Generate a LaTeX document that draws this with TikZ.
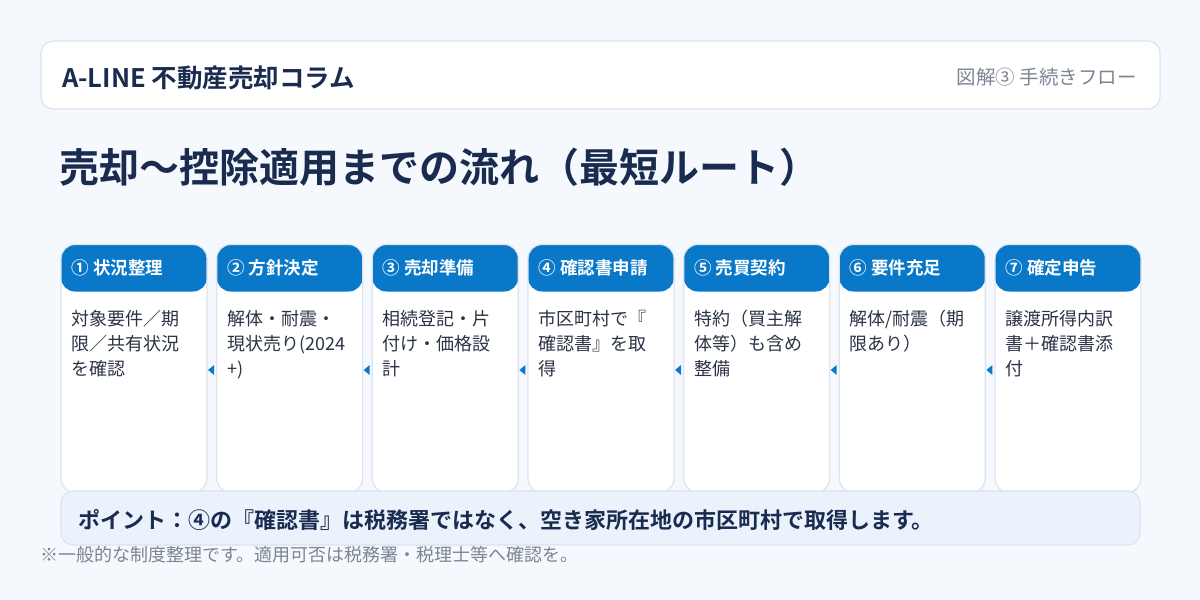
\documentclass[tikz,border=0pt]{standalone}
\usepackage{fontspec}
\setmainfont{Noto Sans CJK JP}[BoldFont={Noto Sans CJK JP Bold}]
\definecolor{pagebg}{HTML}{F5F8FC}
\definecolor{navy}{HTML}{1A2B50}
\definecolor{headblue}{HTML}{0A78C8}
\definecolor{lineblue}{HTML}{DCE4EF}
\definecolor{pointbg}{HTML}{EBF2FC}
\definecolor{greytxt}{HTML}{7C8594}
\definecolor{bodyink}{HTML}{2B3445}
\begin{document}
\begin{tikzpicture}[x=1pt,y=-1pt,
  panel/.style={draw=lineblue,line width=1.2pt,fill=white,rounded corners=12,inner sep=0},
  card/.style={panel,minimum width=146,minimum height=248,rounded corners=14,
    path picture={\fill[headblue] ([yshift=-47pt]path picture bounding box.north west) rectangle (path picture bounding box.north east);}},
  headtxt/.style={anchor=west,inner sep=0,text=white,font=\fontsize{17.5}{20}\selectfont\bfseries},
  bodytxt/.style={anchor=north west,inner sep=0,align=left,text=bodyink,font=\fontsize{18}{25}\selectfont},
  pointer/.style={fill=headblue}]
  \useasboundingbox[fill=pagebg] (0,0) rectangle (1200,600);
  % header bar
  \node (hdr) [panel,minimum width=1119,minimum height=68] at (600.5,75) {};
  \node (brand) [anchor=west,inner sep=0,text=navy,font=\fontsize{25.5}{28}\selectfont\bfseries] at (62,78) {A-LINE 不動産売却コラム};
  \node (fig) [anchor=east,inner sep=0,text=greytxt,font=\fontsize{19.5}{22}\selectfont] at (1137,77) {図解③ 手続きフロー};
  \node (title) [anchor=west,inner sep=0,text=navy,font=\fontsize{40}{44}\selectfont\bfseries] at (59,167) {売却〜控除適用までの流れ（最短ルート）};
  % step cards
  \node (c1) [card] at (134,368.5) {};
  \node (c2) [card] at (289.7,368.5) {};
  \node (c3) [card] at (445.3,368.5) {};
  \node (c4) [card] at (601,368.5) {};
  \node (c5) [card] at (756.7,368.5) {};
  \node (c6) [card] at (912.3,368.5) {};
  \node (c7) [card] at (1068,368.5) {};
  \node (h1) [headtxt] at ([xshift=11pt,yshift=-24pt]c1.north west) {① 状況整理};
  \node (h2) [headtxt] at ([xshift=11pt,yshift=-24pt]c2.north west) {② 方針決定};
  \node (h3) [headtxt] at ([xshift=11pt,yshift=-24pt]c3.north west) {③ 売却準備};
  \node (h4) [headtxt] at ([xshift=11pt,yshift=-24pt]c4.north west) {④ 確認書申請};
  \node (h5) [headtxt] at ([xshift=11pt,yshift=-24pt]c5.north west) {⑤ 売買契約};
  \node (h6) [headtxt] at ([xshift=11pt,yshift=-24pt]c6.north west) {⑥ 要件充足};
  \node (h7) [headtxt] at ([xshift=11pt,yshift=-24pt]c7.north west) {⑦ 確定申告};
  \node (b1) [bodytxt] at ([xshift=11pt,yshift=-66pt]c1.north west) {対象要件／期\\限／共有状況\\を確認};
  \node (b2) [bodytxt] at ([xshift=11pt,yshift=-66pt]c2.north west) {解体・耐震・\\現状売り(2024\\+)};
  \node (b3) [bodytxt] at ([xshift=11pt,yshift=-66pt]c3.north west) {相続登記・片\\付け・価格設\\計};
  \node (b4) [bodytxt] at ([xshift=11pt,yshift=-66pt]c4.north west) {市区町村で『\\確認書』を取\\得};
  \node (b5) [bodytxt] at ([xshift=11pt,yshift=-66pt]c5.north west) {特約（買主解\\体等）も含め\\整備};
  \node (b6) [bodytxt] at ([xshift=11pt,yshift=-66pt]c6.north west) {解体/耐震（期\\限あり）};
  \node (b7) [bodytxt] at ([xshift=11pt,yshift=-66pt]c7.north west) {譲渡所得内訳\\書＋確認書添\\付};
  % flow markers
  \fill[pointer] ([xshift=-8pt,yshift=-1.5pt]c2.west) -- ++(6,-5) -- ++(0,10) -- cycle;
  \fill[pointer] ([xshift=-8pt,yshift=-1.5pt]c3.west) -- ++(6,-5) -- ++(0,10) -- cycle;
  \fill[pointer] ([xshift=-8pt,yshift=-1.5pt]c4.west) -- ++(6,-5) -- ++(0,10) -- cycle;
  \fill[pointer] ([xshift=-8pt,yshift=-1.5pt]c5.west) -- ++(6,-5) -- ++(0,10) -- cycle;
  \fill[pointer] ([xshift=-8pt,yshift=-1.5pt]c6.west) -- ++(6,-5) -- ++(0,10) -- cycle;
  \fill[pointer] ([xshift=-8pt,yshift=-1.5pt]c7.west) -- ++(6,-5) -- ++(0,10) -- cycle;
  % point box
  \node (pt) [panel,fill=pointbg,minimum width=1079,minimum height=54] at (600.5,518) {};
  \node (ptxt) [anchor=west,inner sep=0,text=navy,font=\fontsize{22}{25}\selectfont\bfseries] at (78,520) {ポイント：④の『確認書』は税務署ではなく、空き家所在地の市区町村で取得します。};
  \node (note) [anchor=west,inner sep=0,text=greytxt,font=\fontsize{18}{20}\selectfont] at (40,555) {※一般的な制度整理です。適用可否は税務署・税理士等へ確認を。};
\end{tikzpicture}
\end{document}
